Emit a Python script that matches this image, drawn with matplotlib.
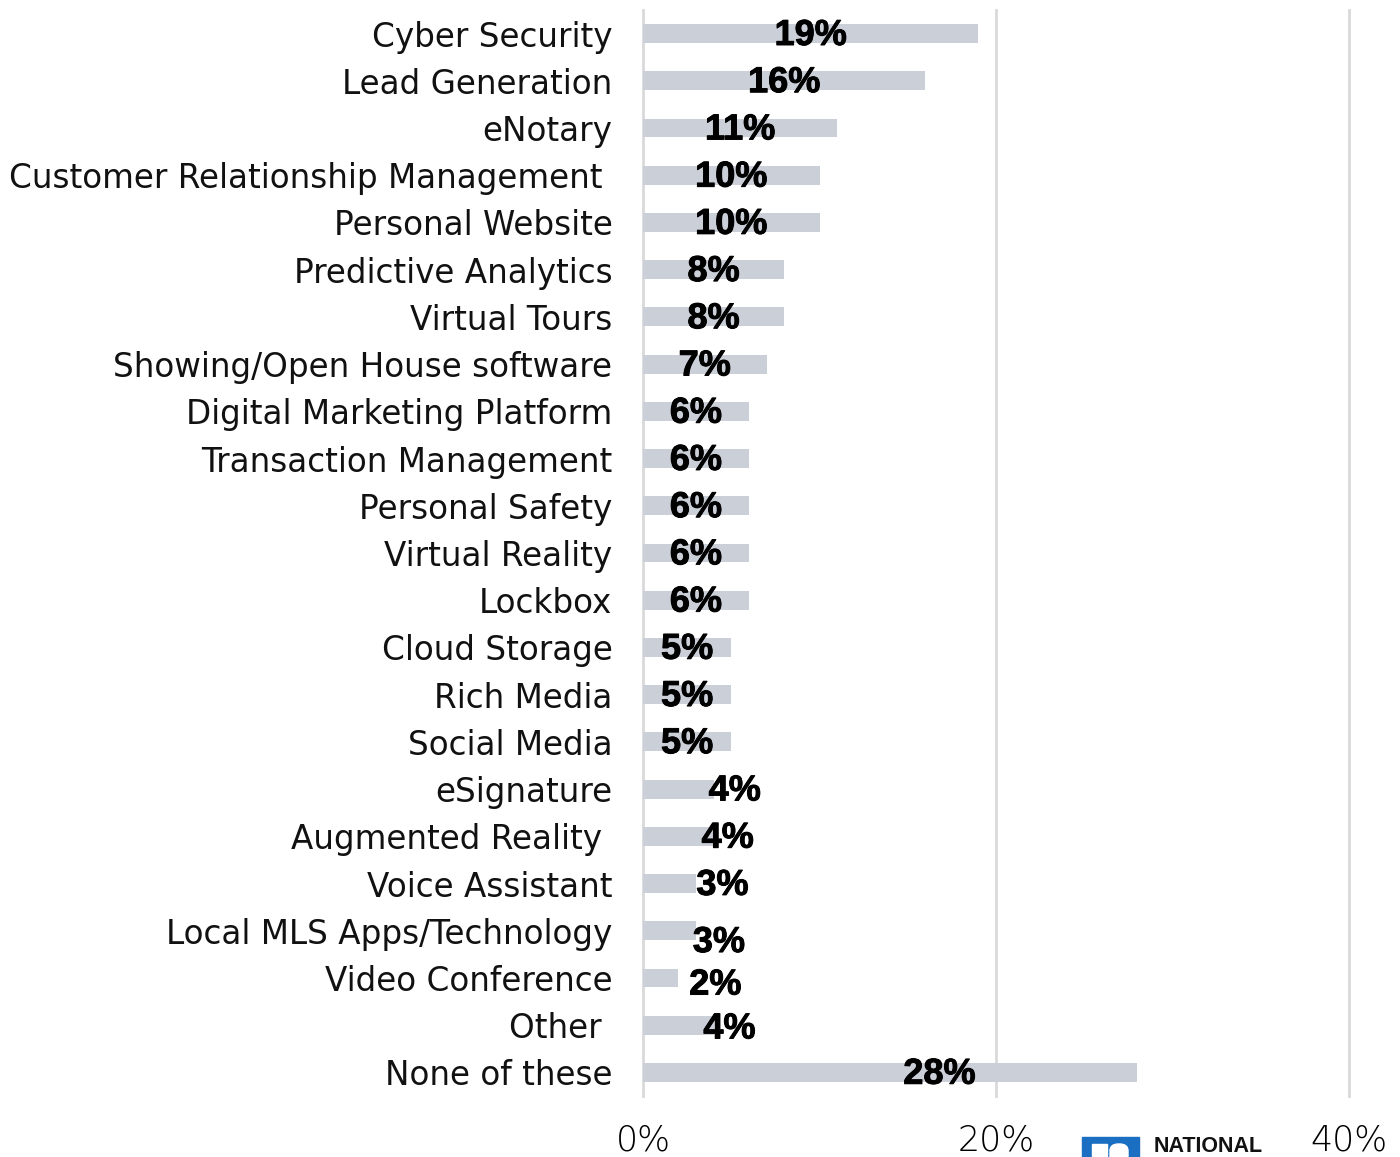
import matplotlib
matplotlib.use("Agg")
import matplotlib.pyplot as plt
import matplotlib.patheffects as pe
from matplotlib.patches import Rectangle, FancyBboxPatch

categories = [
    "Cyber Security", "Lead Generation", "eNotary",
    "Customer Relationship Management ", "Personal Website",
    "Predictive Analytics", "Virtual Tours", "Showing/Open House software",
    "Digital Marketing Platform", "Transaction Management", "Personal Safety",
    "Virtual Reality", "Lockbox", "Cloud Storage", "Rich Media",
    "Social Media", "eSignature", "Augmented Reality ", "Voice Assistant",
    "Local MLS Apps/Technology", "Video Conference", "Other ", "None of these",
]
values = [19, 16, 11, 10, 10, 8, 8, 7, 6, 6, 6, 6, 6, 5, 5, 5, 4, 4, 3, 3, 2, 4, 28]
value_labels = [f"{v}%" for v in values]
x_ticks = [0, 20, 40]
x_tick_labels = ["0%", "20%", "40%"]

# label anchor (in axis units) and vertical nudge (in bar rows) for each value label
label_x = [v / 2 for v in values]
label_x[16:22] = [5.2, 4.8, 4.5, 4.3, 4.1, 4.9]
label_x[22] = 16.8
label_dy = [0.04] * len(values)
label_dy[19] = 0.25
label_dy[20] = 0.15
label_dy[21] = 0.08

BAR_COLOR = "#cbcfd8"
GRID_COLOR = "#d9d9d9"

fig = plt.figure(figsize=(14, 11.57), dpi=100)
ax = fig.add_axes([643 / 1400, 1 - 1096 / 1157, 706 / 1400, 1086 / 1157])

y = list(range(len(categories)))
ax.barh(y, values, height=0.4, color=BAR_COLOR, zorder=2)

heavy = [pe.withStroke(linewidth=0.7, foreground="black")]
for yi, lx, dy, txt in zip(y, label_x, label_dy, value_labels):
    ax.text(lx, yi + dy, txt, ha="center", va="center", fontsize=26,
            fontweight="bold", family="Liberation Sans", color="black",
            zorder=3, path_effects=heavy)

ax.set_xlim(0, 40)
ax.set_ylim(len(categories) - 0.5, -0.5)
ax.set_yticks(y)
ax.set_yticklabels(categories, fontsize=23.5, family="DejaVu Sans", color="#111111")
ax.set_xticks(x_ticks)
ax.set_xticklabels(x_tick_labels, fontsize=25, family="DejaVu Sans",
                   fontweight="light", color="#000000")
ax.tick_params(axis="y", length=0, pad=22)
ax.tick_params(axis="x", length=0, pad=20)
for s in ax.spines.values():
    s.set_visible(False)
ax.grid(axis="x", color=GRID_COLOR, linewidth=2, zorder=0)
for gl in ax.get_xgridlines():
    gl.set_clip_on(False)
ax.set_axisbelow(True)

# logo at the lower right
W, H = 1400, 1157
def fx(px):
    return px / W
def fy(py):
    return 1 - py / H

fig.patches.append(Rectangle((fx(1082), fy(1160)), fx(1139) - fx(1082), fy(1137) - fy(1160),
                             transform=fig.transFigure, color="#1b6fc2", zorder=5))
fig.patches.append(Rectangle((fx(1092), fy(1160)), fx(1107) - fx(1092), fy(1144) - fy(1160),
                             transform=fig.transFigure, color="white", zorder=6))
fig.patches.append(FancyBboxPatch((fx(1110), fy(1170)), fx(1128) - fx(1110), fy(1144) - fy(1170),
                                  boxstyle="round,pad=0,rounding_size=0.006",
                                  transform=fig.transFigure, color="white", zorder=6))
fig.text(fx(1154), fy(1146), "NATIONAL", fontsize=15.5, fontweight="bold",
         family="Liberation Sans", color="#111111", va="center", ha="left")

fig.savefig("out.png", dpi=100, facecolor="white")
